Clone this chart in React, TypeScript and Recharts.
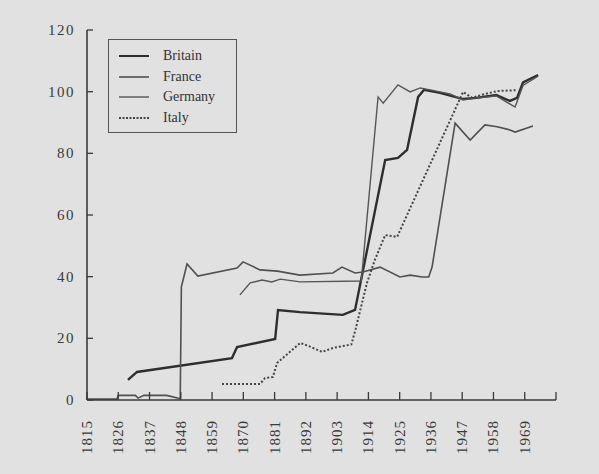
import React from "react";
import { LineChart, Line, XAxis, YAxis } from "recharts";

const xTicks = [1815, 1826, 1837, 1848, 1859, 1870, 1881, 1892, 1903, 1914, 1925, 1936, 1947, 1958, 1969, 1980];
const xTickLabels = ["1815", "1826", "1837", "1848", "1859", "1870", "1881", "1892", "1903", "1914", "1925", "1936", "1947", "1958", "1969", ""];
const yTicks = [0, 20, 40, 60, 80, 100, 120];

const britainYears = [1829.4, 1832.6, 1866, 1867.8, 1881.2, 1882.2, 1889.9, 1905, 1909.3, 1919.9, 1924.4, 1927.6, 1931.5, 1933.6, 1939.2, 1947.3, 1952, 1959, 1963.8, 1966.3, 1968.4, 1973.7];
const britainValues = [6.5, 9.1, 13.6, 17.2, 19.8, 29.2, 28.5, 27.6, 29.2, 77.8, 78.5, 81.1, 98.3, 100.6, 99.6, 97.6, 98, 98.9, 97, 98, 103, 105.4];

const franceYears = [1815, 1825.5, 1826, 1832, 1833, 1835, 1843, 1847.5, 1847.8, 1848.2, 1850.2, 1854, 1867.8, 1869.9, 1875.9, 1882, 1889.9, 1901.5, 1904.7, 1909.3, 1912.1, 1918.1, 1925.1, 1928.7, 1932.9, 1935.2, 1936.4, 1944.5, 1949.8, 1955, 1959.3, 1963.8, 1965.6, 1971.9];
const franceValues = [0.3, 0.3, 1.5, 1.5, 0.6, 1.5, 1.5, 0.5, 0.3, 36.7, 44.1, 40.2, 42.8, 44.8, 42.2, 41.8, 40.5, 41.2, 43.1, 41.2, 41.5, 43.1, 39.9, 40.5, 39.9, 39.9, 43.1, 89.8, 84.3, 89.2, 88.6, 87.6, 86.9, 88.9];

const germanyYears = [1868.8, 1872.4, 1876.6, 1880, 1883, 1890, 1911.5, 1917.4, 1919.2, 1924.4, 1928.7, 1932.2, 1935.7, 1942.7, 1947.3, 1952, 1959, 1965.6, 1968.4, 1973.7];
const germanyValues = [34.1, 38, 38.9, 38.3, 39.2, 38.3, 38.6, 98.3, 96.3, 102.2, 99.9, 101.2, 100.6, 99.3, 97.3, 98, 98.6, 95, 102, 105];

const italyYears = [1862.5, 1875.9, 1877.6, 1880.4, 1881.9, 1885, 1890, 1893, 1897.7, 1901.6, 1908, 1909.5, 1913.5, 1916.3, 1919.9, 1924.1, 1947.3, 1950.5, 1954, 1959.3, 1966.3];
const italyValues = [5.2, 5.2, 7.1, 7.5, 12, 14.5, 18.5, 17.5, 15.6, 16.9, 18, 23, 38, 45.5, 53.5, 52.9, 99.9, 98, 99, 100.2, 100.5];

const toData = (years: number[], values: number[]) => years.map((year, i) => ({ year, v: values[i] }));

const series = [
  { name: "Britain", data: toData(britainYears, britainValues), stroke: "#2e2e2e", width: 2.4, dash: undefined as string | undefined },
  { name: "France", data: toData(franceYears, franceValues), stroke: "#505050", width: 1.6, dash: undefined as string | undefined },
  { name: "Germany", data: toData(germanyYears, germanyValues), stroke: "#555555", width: 1.4, dash: undefined as string | undefined },
  { name: "Italy", data: toData(italyYears, italyValues), stroke: "#444444", width: 2, dash: "2 2" },
];

const FONT = "'Liberation Serif', 'DejaVu Serif', serif";
const INK = "#3a3a3a";

const YTick = (props: any) => {
  const { x, y, payload } = props;
  return (
    <g>
      <line x1={x + 10} y1={y} x2={x + 16} y2={y} stroke={INK} strokeWidth={1.3} />
      <text x={x - 2} y={y} textAnchor="end" dominantBaseline="central" fontFamily={FONT} fontSize={15} letterSpacing={1.5} fill={INK}>
        {payload.value}
      </text>
    </g>
  );
};

const XTick = (props: any) => {
  const { x, y, payload } = props;
  const idx = xTicks.indexOf(payload.value);
  const label = idx >= 0 ? xTickLabels[idx] : "";
  const ty = y + 10;
  return (
    <g>
      <line x1={x} y1={y - 10} x2={x} y2={y - 18} stroke={INK} strokeWidth={1.3} />
      {label ? (
        <text x={x} y={ty} transform={`rotate(-90, ${x}, ${ty})`} textAnchor="end" dominantBaseline="central" fontFamily={FONT} fontSize={15} letterSpacing={1} fill={INK}>
          {label}
        </text>
      ) : null}
    </g>
  );
};

const LegendBox = () => (
  <div
    style={{
      position: "absolute",
      left: 108,
      top: 39,
      width: 129,
      height: 94,
      border: "1.5px solid #555",
      boxSizing: "border-box",
      paddingTop: 6,
      fontFamily: FONT,
      fontSize: 14,
      color: "#333",
    }}
  >
    {series.map((s) => (
      <div key={s.name} style={{ display: "flex", alignItems: "center", height: 20.5 }}>
        <svg width={54} height={10} style={{ flex: "none" }}>
          <line x1={10} y1={5} x2={40} y2={5} stroke={s.stroke} strokeWidth={s.width > 2 ? 2 : s.width} strokeDasharray={s.dash ? "2 1.5" : undefined} />
        </svg>
        <span>{s.name}</span>
      </div>
    ))}
  </div>
);

export default function App() {
  return (
    <div style={{ position: "absolute", left: 0, top: 0, width: 599, height: 474, background: "#e1e1e1" }}>
      <LineChart width={599} height={474} margin={{ top: 30, right: 43, bottom: 14, left: 27 }}>
        <XAxis
          type="number"
          dataKey="year"
          domain={[1815, 1980]}
          ticks={xTicks}
          interval={0}
          height={60}
          tickSize={0}
          tickMargin={10}
          tickLine={false}
          axisLine={{ stroke: INK, strokeWidth: 1.6 }}
          tick={<XTick />}
          allowDataOverflow
        />
        <YAxis
          type="number"
          domain={[0, 120]}
          ticks={yTicks}
          interval={0}
          width={60}
          tickSize={0}
          tickMargin={10}
          tickLine={false}
          axisLine={{ stroke: INK, strokeWidth: 1.6 }}
          tick={<YTick />}
          allowDataOverflow
        />
        {series.map((s) => (
          <Line
            key={s.name}
            data={s.data}
            dataKey="v"
            name={s.name}
            type="linear"
            stroke={s.stroke}
            strokeWidth={s.width}
            strokeDasharray={s.dash}
            dot={false}
            activeDot={false}
            isAnimationActive={false}
          />
        ))}
      </LineChart>
      <LegendBox />
    </div>
  );
}
